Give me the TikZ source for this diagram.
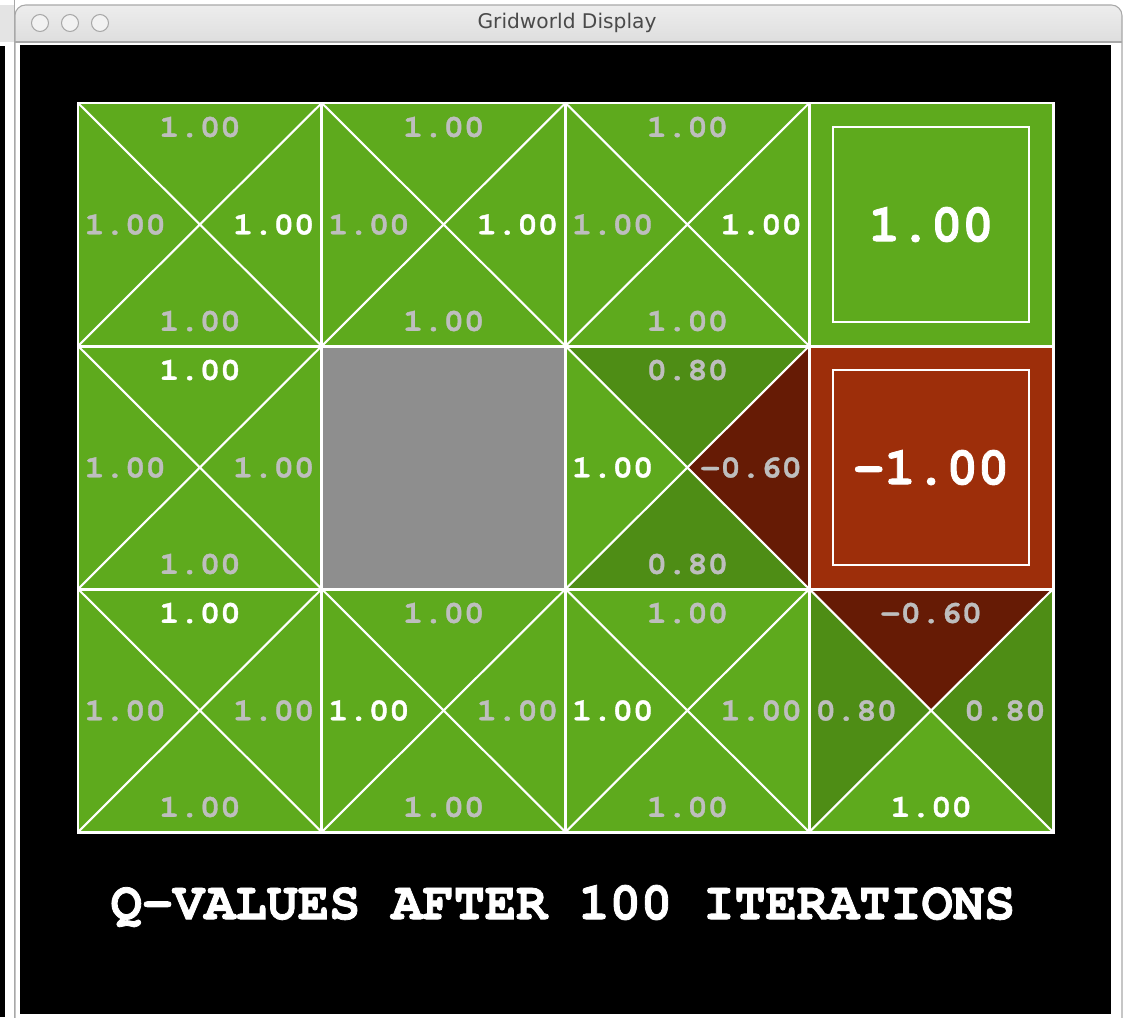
\documentclass[tikz,border=0pt]{standalone}
\usepackage{fontspec}
\setmainfont{DejaVu Sans}
\newfontfamily\qfont{texgyrecursor-bold.otf}[FakeStretch=1.08,FakeBold=1.2]
\newfontfamily\qbigfont{texgyrecursor-bold.otf}[FakeStretch=0.97,FakeBold=1.5]
\definecolor{qgreen}{HTML}{5EAA1D}
\definecolor{qdark}{HTML}{4E8D15}
\definecolor{qneg}{HTML}{661B05}
\definecolor{qexit}{HTML}{9D2E0A}
\definecolor{qwall}{HTML}{8E8E8E}
\definecolor{qgray}{HTML}{BEBEBE}
\definecolor{winbar}{HTML}{E4E4E4}
\definecolor{winedge}{HTML}{A8A8A8}
\definecolor{wintext}{HTML}{4A4A4A}

\begin{document}
\begin{tikzpicture}[x=0.02cm,y=-0.02cm,
  cellline/.style={draw=white,line width=1.7pt},
  diag/.style={draw=white,line width=1.2pt},
  exitbox/.style={draw=white,line width=1.1pt},
  qval/.style={font=\qfont\fontsize{17.9}{19}\selectfont,inner sep=0pt},
  qbig/.style={font=\qbigfont\fontsize{30.5}{32}\selectfont,text=white,inner sep=0pt},
  winbtn/.style={circle,draw=winedge,fill=white!95!black,line width=0.6pt,
    minimum size=0.34cm,inner sep=0pt}]
  \useasboundingbox (0,0) rectangle (1133,1018);
  \clip (0,0) rectangle (1133,1018);
  \fill[white] (0,0) rectangle (1133,1018);
  % window behind, on the left
  \fill[winbar] (0,5) rectangle (14,42);
  \fill[black] (0,46) rectangle (5,1017);
  \draw[winedge,line width=0.6pt] (14.5,0) -- (14.5,1018);
  % the window itself
  \shade[top color=white!93!black,bottom color=white!84!black,rounded corners=6] (15,5) rectangle (1122,60);
  \fill[white] (15,42) rectangle (1122,1018);
  \draw[winedge,line width=0.6pt,rounded corners=6] (15,1030) -- (15,5) -- (1122,5) -- (1122,1030);
  \draw[winedge,line width=0.6pt] (15,42) -- (1122,42);
  \foreach \i/\bx in {1/40,2/70,3/100}
    \node[winbtn] (btn\i) at (\bx,23) {};
  \node[font=\fontsize{11.5}{13}\selectfont,text=wintext] (wintitle) at (567,23) {Gridworld Display};
  \fill[black] (20,45) rectangle (1111,1014);
  % grid points and cell centres
  \foreach \c in {0,...,4}
    \foreach \r in {0,...,3}
      \coordinate (g\c\r) at ({78+243.75*\c},{103+243*\r});
  \foreach \c in {0,...,3}
    \foreach \r in {0,...,2}
      \coordinate (m\c\r) at ({78+243.75*(\c+.5)},{103+243*(\r+.5)});
  \fill[qgreen] (g00) rectangle (g43);
  \fill[qwall] (g11) rectangle (g22);
  \fill[qexit] (g31) rectangle (g42);
  \fill[qdark] (g21) -- (g31) -- (m21) -- cycle;
  \fill[qneg] (g31) -- (g32) -- (m21) -- cycle;
  \fill[qdark] (g32) -- (g22) -- (m21) -- cycle;
  \fill[qneg] (g32) -- (g42) -- (m32) -- cycle;
  \fill[qdark] (g42) -- (g43) -- (m32) -- cycle;
  \fill[qdark] (g33) -- (g32) -- (m32) -- cycle;
  \foreach \c/\r in {0/0,1/0,2/0,0/1,2/1,0/2,1/2,2/2,3/2} {
    \pgfmathtruncatemacro\cc{\c+1}
    \pgfmathtruncatemacro\rr{\r+1}
    \draw[diag] (g\c\r) -- (g\cc\rr) (g\cc\r) -- (g\c\rr);
  }
  \foreach \c in {1,2,3} \draw[cellline] (g\c0) -- (g\c3);
  \foreach \r in {1,2} \draw[cellline] (g0\r) -- (g4\r);
  \draw[cellline] (g00) rectangle (g43);
  % exit cells
  \draw[exitbox] ([shift={(24,24)}]g30) rectangle ([shift={(-24,-24)}]g41);
  \draw[exitbox] ([shift={(24,24)}]g31) rectangle ([shift={(-24,-24)}]g42);
  \node[qbig] (exit30) at (m30) {1.00};
  \node[qbig] (exit31) at (m31) {-1.00};
  % q-values: north, east, south, west
  \foreach \c/\r/\vn/\kn/\ve/\ke/\vs/\ks/\vw/\kw in {
    0/0/1.00/qgray/1.00/white/1.00/qgray/1.00/qgray,
    1/0/1.00/qgray/1.00/white/1.00/qgray/1.00/qgray,
    2/0/1.00/qgray/1.00/white/1.00/qgray/1.00/qgray,
    0/1/1.00/white/1.00/qgray/1.00/qgray/1.00/qgray,
    2/1/0.80/qgray/-0.60/qgray/0.80/qgray/1.00/white,
    0/2/1.00/white/1.00/qgray/1.00/qgray/1.00/qgray,
    1/2/1.00/qgray/1.00/qgray/1.00/qgray/1.00/white,
    2/2/1.00/qgray/1.00/qgray/1.00/qgray/1.00/white,
    3/2/-0.60/qgray/0.80/qgray/1.00/white/0.80/qgray} {
    \node[qval,text=\kn] (n\c\r) at ({78+243.75*(\c+.5)},{103+243*\r+24}) {\vn};
    \node[qval,text=\ke,anchor=east] (e\c\r) at ({78+243.75*(\c+1)-7},{103+243*(\r+.5)}) {\ve};
    \node[qval,text=\ks] (s\c\r) at ({78+243.75*(\c+.5)},{103+243*\r+218}) {\vs};
    \node[qval,text=\kw,anchor=west] (w\c\r) at ({78+243.75*\c+6},{103+243*(\r+.5)}) {\vw};
  }
  \node[qbig] (caption) at (563,906) {Q-VALUES AFTER 100 ITERATIONS};
\end{tikzpicture}
\end{document}
